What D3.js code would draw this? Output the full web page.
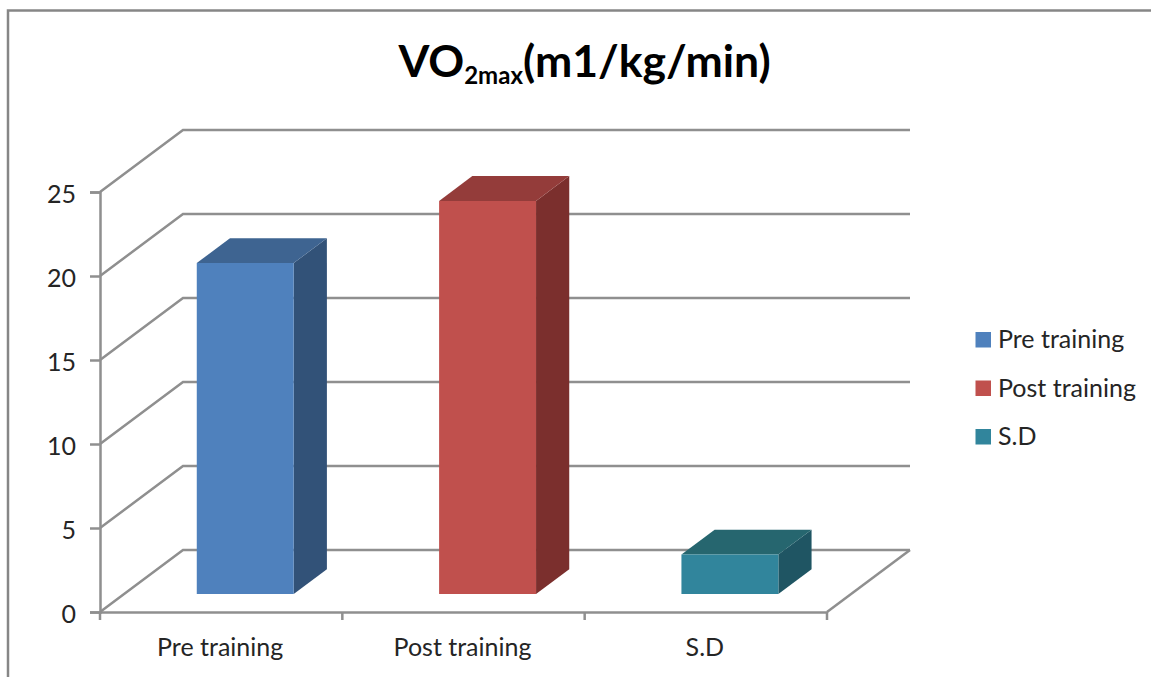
<!DOCTYPE html>
<html>
<head>
<meta charset="utf-8">
<script src="https://cdn.jsdelivr.net/npm/d3@7"></script>
<style>
    html, body { margin: 0; padding: 0; background: #fff; }
    svg { display: block; }
    text { font-family: Lato, "Open Sans", sans-serif; fill: #252525; }
</style>
</head>
<body>
<div id="chart"></div>
<script>
const categories = ['Pre training', 'Post training', 'S.D'];
const values = [19.7, 23.4, 2.35];
const yTicks = [0, 5, 10, 15, 20, 25];
const frontColors = ['#4f81bd', '#c0504d', '#31859c'];
const topColors = ['#3e6491', '#943c3a', '#26666f'];
const sideColors = ['#325278', '#7b2f2d', '#1f5563'];

const width = 1151;
const height = 677;

const svg = d3.select('#chart')
    .append('svg')
    .attr('width', width)
    .attr('height', height);

const xScale = d3.scaleBand()
    .domain(categories)
    .range([100, 827]);

const yScale = d3.scaleLinear()
    .domain([0, 25])
    .range([612, 192]);

// the fake 3d: how far the floor runs back
const depthX = 83;
const depthY = 62;
const barStart = 0.29;
const barEnd = 0.69;
const barWidth = xScale.bandwidth() * 0.4;
const gridColor = '#8f8f8f';
const gridWidth = 2.5;

const project = (x, y, depth) => [x + depthX * depth, y - depthY * depth];
const poly = (pts) => pts.map((p) => p.join(',')).join(' ');

// frame of the pasted chart, only top and left show
svg.append('path')
    .attr('d', `M8,${height}V10.5H${width}`)
    .attr('fill', 'none')
    .attr('stroke', '#868686')
    .attr('stroke-width', 2.5);

// back wall gridlines and the slanted lines on the side wall
yTicks.forEach((t) => {
    const y = yScale(t);
    const back = project(100, y, 1);
    const end = project(827, y, 1);
    svg.append('polyline')
        .attr('points', poly([[100, y], back, end]))
        .attr('fill', 'none')
        .attr('stroke', gridColor)
        .attr('stroke-width', gridWidth);
});

// right edge of the floor
svg.append('line')
    .attr('x1', 827)
    .attr('y1', yScale(0))
    .attr('x2', 827 + depthX)
    .attr('y2', yScale(0) - depthY)
    .attr('stroke', gridColor)
    .attr('stroke-width', gridWidth);

const yAxis = svg.append('g')
    .attr('transform', 'translate(100, 0)')
    .call(d3.axisLeft(yScale).tickValues(yTicks).tickSize(10).tickPadding(14));

const xAxis = svg.append('g')
    .attr('transform', `translate(0, ${yScale(0)})`)
    .call(d3.axisBottom(xScale).tickSize(0).tickPadding(26));

[yAxis, xAxis].forEach((axis) => {
    axis.selectAll('path, line').attr('stroke', gridColor).attr('stroke-width', gridWidth);
    axis.selectAll('text').style('font-size', '25px').attr('fill', '#252525');
});
yAxis.selectAll('text').attr('dy', '0.42em');
xAxis.selectAll('text').attr('x', -1);

// ticks sit between the categories, not under them
const edges = categories.map((c) => xScale(c)).concat(827);
xAxis.selectAll('.edge')
    .data(edges)
    .enter()
    .append('line')
    .attr('class', 'edge')
    .attr('x1', (d) => d)
    .attr('x2', (d) => d)
    .attr('y1', 0)
    .attr('y2', 8)
    .attr('stroke', gridColor)
    .attr('stroke-width', gridWidth);

// bars
categories.forEach((c, i) => {
    const x0 = xScale(c) + (xScale.bandwidth() - barWidth) / 2;
    const x1 = x0 + barWidth;
    const y0 = yScale(0);
    const yTop = yScale(values[i]);

    const front = [project(x0, yTop, barStart), project(x1, yTop, barStart), project(x1, y0, barStart), project(x0, y0, barStart)];
    const top = [project(x0, yTop, barStart), project(x0, yTop, barEnd), project(x1, yTop, barEnd), project(x1, yTop, barStart)];
    const side = [project(x1, yTop, barStart), project(x1, yTop, barEnd), project(x1, y0, barEnd), project(x1, y0, barStart)];

    svg.append('polygon').attr('points', poly(side)).attr('fill', sideColors[i]);
    svg.append('polygon').attr('points', poly(top)).attr('fill', topColors[i]);
    svg.append('polygon').attr('points', poly(front)).attr('fill', frontColors[i]);
});

// title with the subscript
const title = svg.append('text')
    .attr('x', 584.5)
    .attr('y', 77)
    .attr('text-anchor', 'middle')
    .style('font-size', '44.5px')
    .style('font-weight', '700')
    .style('fill', '#000');
title.append('tspan').text('VO');
title.append('tspan').attr('dy', 7).style('font-size', '24px').text('2max');
title.append('tspan').attr('dy', -7).text('(m1/kg/min)');

// legend
const legendY = d3.scalePoint()
    .domain(categories)
    .range([339.5, 436.5]);

categories.forEach((c, i) => {
    svg.append('rect')
        .attr('x', 975.5)
        .attr('y', legendY(c) - 7.5)
        .attr('width', 15.5)
        .attr('height', 15.5)
        .attr('fill', frontColors[i]);
    svg.append('text')
        .attr('x', 998)
        .attr('y', legendY(c) + 8.5)
        .style('font-size', '25px')
        .text(c);
});
</script>
</body>
</html>
